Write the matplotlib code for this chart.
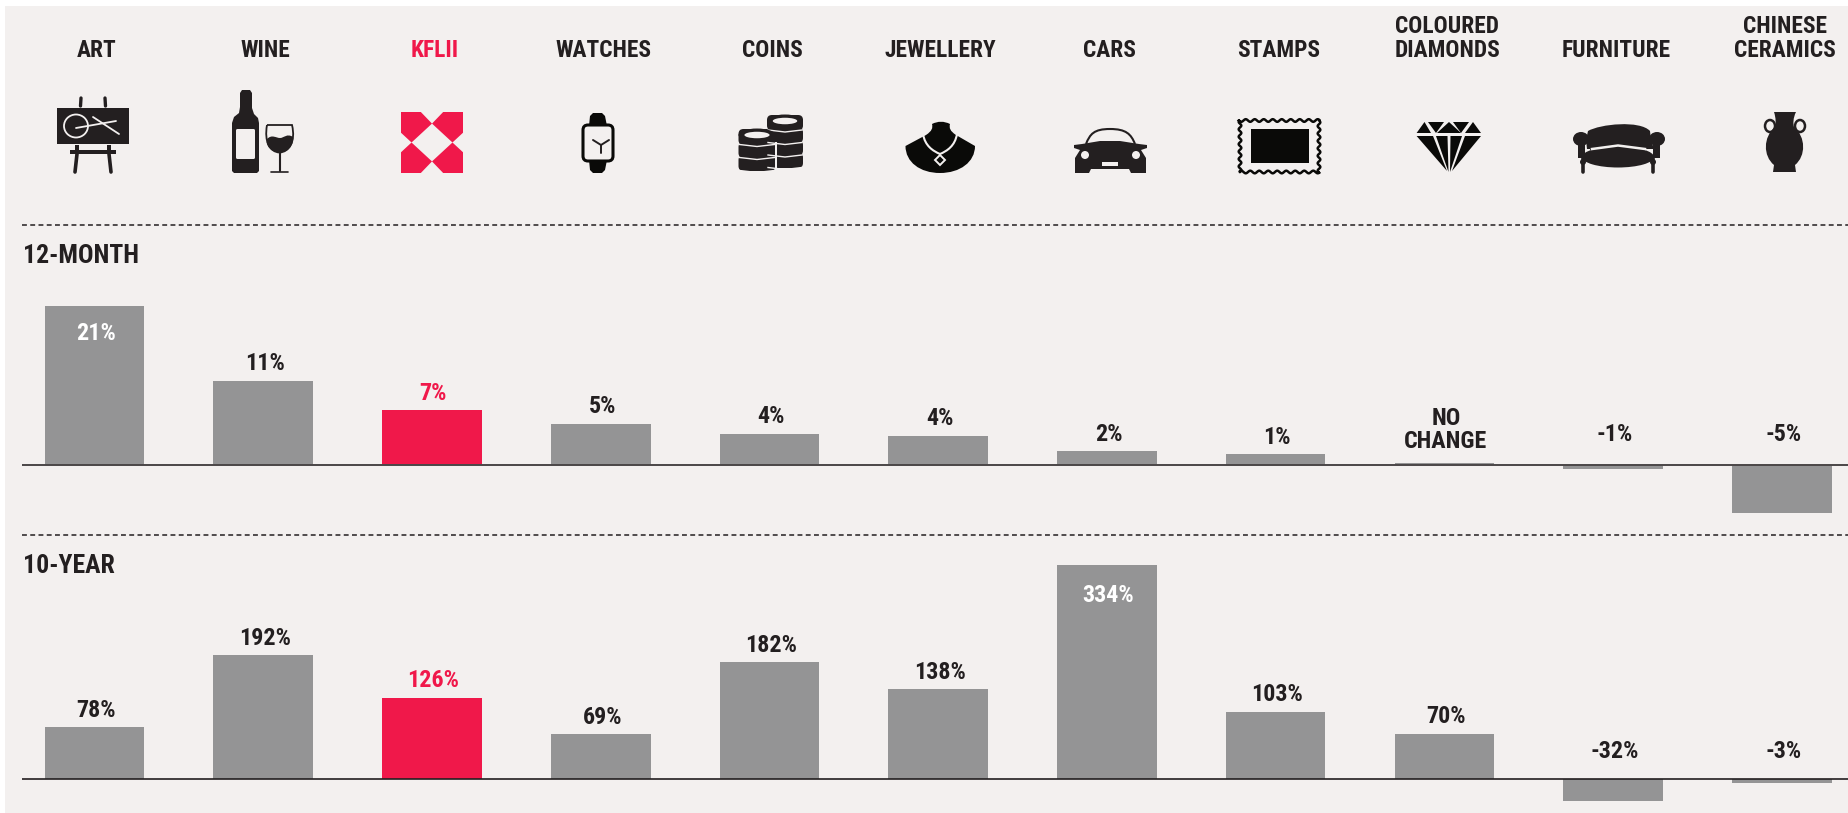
import matplotlib
matplotlib.use("Agg")
import matplotlib.pyplot as plt
from matplotlib import font_manager as fm
from matplotlib.patches import Rectangle, Polygon, Ellipse, FancyBboxPatch, PathPatch
from matplotlib.path import Path
import numpy as np

categories = ["ART", "WINE", "KFLII", "WATCHES", "COINS", "JEWELLERY", "CARS", "STAMPS",
              "COLOURED\nDIAMONDS", "FURNITURE", "CHINESE\nCERAMICS"]
twelve_month_heights = [21.0, 11.1, 7.2, 5.4, 4.1, 3.8, 1.8, 1.37, 0.25, -0.6, -6.4]
twelve_month_labels = ["21%", "11%", "7%", "5%", "4%", "4%", "2%", "1%", "NO\nCHANGE", "-1%", "-5%"]
ten_year_heights = [81, 193, 127, 70, 182, 140, 334, 105, 71, -33, -6]
ten_year_labels = ["78%", "192%", "126%", "69%", "182%", "138%", "334%", "103%", "70%", "-32%", "-3%"]
highlight = "KFLII"

W, H = 1848, 813
BG, GREY, RED, INK = "#f3f0ef", "#949495", "#f0184a", "#231f20"

available_bold = {f.name for f in fm.fontManager.ttflist if int(f.weight) >= 600}
family = next((n for n in ["Roboto Condensed", "Archivo Narrow", "PT Sans Narrow", "Pragati Narrow"]
               if n in available_bold), "Liberation Sans")
plt.rcParams["font.family"] = [family, "Liberation Sans", "DejaVu Sans"]
plt.rcParams["font.weight"] = "bold"

fig = plt.figure(figsize=(W / 100, H / 100), dpi=100, facecolor="white")
ov = fig.add_axes([0, 0, 1, 1], zorder=0)
ov.set_xlim(0, W); ov.set_ylim(H, 0); ov.axis("off")
ov.add_patch(Rectangle((5, 6), W, H, fc=BG, ec="none"))

FS_HEAD, FS_VAL, FS_TITLE = 16.8, 17.3, 18.5
STEP, X0, BW = 168.75, 94.5, 99.5

def panel(top, bottom, base, scale, heights, labels, title, title_y, inside, inside_off, neg_off, line_c, line_w):
    ax = fig.add_axes([0, 1 - bottom / H, 1, (bottom - top) / H], zorder=2)
    ax.patch.set_alpha(0)
    ax.axis("off")
    ax.set_xlim(-X0 / STEP, (W - X0) / STEP)
    ax.set_ylim(-(bottom - base) / scale, (base - top) / scale)
    xs = np.arange(len(categories))
    colors = [RED if c == highlight else GREY for c in categories]
    ax.bar(xs, heights, width=BW / STEP, color=colors, linewidth=0, zorder=2)
    ax.plot([(22 - X0) / STEP, (W - X0) / STEP], [0, 0], color=line_c, lw=line_w, zorder=3,
            solid_capstyle="butt")
    for i, (h, lab, c) in enumerate(zip(heights, labels, categories)):
        tc = RED if c == highlight else INK
        kw = dict(textcoords="offset points", ha="center", va="center", fontsize=FS_VAL)
        if "\n" in lab:
            ax.annotate(lab, (i, 0), xytext=(1, 35 * 0.72), color=tc, linespacing=1.0, **kw)
        elif i in inside:
            ax.annotate(lab, (i, h), xytext=(1, -inside_off * 0.72), color="white", **kw)
        elif h < 0:
            ax.annotate(lab, (i, 0), xytext=(1, neg_off * 0.72), color=tc, **kw)
        else:
            ax.annotate(lab, (i, h), xytext=(1, 17 * 0.72), color=tc, **kw)
    ov.text(23, title_y, title, ha="left", va="center", fontsize=FS_TITLE, color=INK)

panel(225, 535, 464.7, 7.57, twelve_month_heights, twelve_month_labels, "12-MONTH", 256, {0}, 28, 30,
      "#4a4647", 1.4)
panel(535, 813, 779.3, 0.643, ten_year_heights, ten_year_labels, "10-YEAR", 566, {6}, 31, 27.5,
      "#231f20", 1.2)

for y in (225, 535):
    ov.plot([22, W], [y, y], color=INK, lw=1.1, dashes=(3.2, 2.2), zorder=1)

for i, c in enumerate(categories):
    ov.text(97 + STEP * i, 50.5, c.split("\n")[-1], ha="center", va="center", fontsize=FS_HEAD,
            color=RED if c == highlight else INK, zorder=3)
    if "\n" in c:
        ov.text(97 + STEP * i, 26.5, c.split("\n")[0], ha="center", va="center", fontsize=FS_HEAD,
                color=INK, zorder=3)

# ---------- icons, in pixel coordinates ----------
K = "#231f20"; K2 = "#0a0a08"
def poly(pts, fc=K, z=3): ov.add_patch(Polygon(pts, closed=True, fc=fc, ec="none", zorder=z))
def rect(x0, y0, x1, y1, fc=K, z=3): ov.add_patch(Rectangle((x0, y0), x1 - x0, y1 - y0, fc=fc, ec="none", zorder=z))
def rrect(x0, y0, x1, y1, r, fc=K, ec="none", lw=0, z=3):
    ov.add_patch(FancyBboxPatch((x0 + r, y0 + r), x1 - x0 - 2 * r, y1 - y0 - 2 * r,
                                boxstyle=f"round,pad={r},rounding_size={r}", fc=fc, ec=ec, lw=lw, zorder=z))
def ell(cx, cy, w, h, fc=K, ec="none", lw=0, z=3): ov.add_patch(Ellipse((cx, cy), w, h, fc=fc, ec=ec, lw=lw, zorder=z))
def line(pts, c=K, lw=2, z=4):
    a = np.array(pts); ov.plot(a[:, 0], a[:, 1], color=c, lw=lw, zorder=z, solid_capstyle="round")
def bez(verts, codes, fc=K, ec="none", lw=0, z=3):
    ov.add_patch(PathPatch(Path(verts, codes), fc=fc, ec=ec, lw=lw, zorder=z))
M, L, C = Path.MOVETO, Path.LINETO, Path.CURVE4

# art
rect(57, 108, 129, 144)
line([(81, 98), (80.5, 106)], lw=2.4); line([(105, 98), (105.5, 106)], lw=2.4)
rect(70, 150, 116, 154); rect(75, 145, 79, 150); rect(107, 145, 111, 150)
line([(77, 154), (75, 172)], lw=2.6); line([(109, 154), (111, 172)], lw=2.6)
ell(76, 126, 24, 23, fc="none", ec=BG, lw=1.3, z=4)
line([(76, 128), (116, 121)], c=BG, lw=1.3); line([(93, 117), (119, 134)], c=BG, lw=1.3)
# wine
poly([(240, 93), (242, 90), (250, 90), (252, 93), (252, 108), (254, 114), (258, 118), (259, 123),
      (259, 171), (257, 173), (234, 173), (232, 171), (232, 123), (234, 117), (239, 113), (240, 107)])
rrect(236, 129, 255, 159, 1.5, fc=BG, z=4)
bez([(267, 125), (264, 142), (270, 152), (279.5, 152.5), (289, 152), (296, 142), (292, 125), (267, 125)],
    [M, C, C, C, C, C, C, L], fc="none", ec=K, lw=1.3)
bez([(267, 139), (272, 134), (276, 138), (280, 138), (284, 138), (287, 133), (293, 137),
     (294, 145), (288, 152.5), (279.5, 152.5), (271, 152.5), (265, 145), (267, 139)],
    [M, C, C, C, C, C, C, C, C, C, C, C, C])
line([(279.5, 152), (279.5, 171)], lw=1.5); line([(271, 172), (288, 172)], lw=1.2)
# kflii
kx, ky, kw, kh = 401, 112, 62, 61
tl = np.array([(0, 0), (.32, 0), (.5, .19), (.17, .5), (0, .34)])
for sx, sy in ((0, 0), (1, 0), (0, 1), (1, 1)):
    p = tl.copy()
    if sx: p[:, 0] = 1 - p[:, 0]
    if sy: p[:, 1] = 1 - p[:, 1]
    poly(np.c_[kx + p[:, 0] * kw, ky + p[:, 1] * kh], fc=RED)
# watch
poly([(589, 126), (590, 116), (593, 113), (602, 113), (605, 116), (607, 126)], fc=K2)
poly([(589, 160), (590, 170), (593, 173), (602, 173), (605, 170), (607, 160)], fc=K2)
rrect(583, 125, 613, 161, 5, fc=BG, ec=K2, lw=2.2, z=4)
line([(601, 145), (601, 153)], lw=1.4, z=5); line([(601, 145), (593, 140)], lw=1.4, z=5); line([(601, 145), (609, 140)], lw=1.4, z=5)
# coins
def coin_stack(cx, w, top, n, dh):
    for k in range(n - 1, -1, -1):
        y = top + k * dh
        rrect(cx - w / 2, y, cx + w / 2, y + dh + 3, 5, fc=K, z=3 + (n - k) * .01)
        ov.plot([cx - w / 2 + 1, cx, cx + w / 2 - 1], [y + dh + 2.5, y + dh + 4.5, y + dh + 2.5], color=BG, lw=1, zorder=3.5)
    ell(cx, top + 6, w, 13, fc=K, z=3.6)
    ell(cx, top + 6, w * .68, 6.5, fc=BG, z=3.7)
coin_stack(785, 36, 115, 4, 12.5)
coin_stack(757, 37, 129, 3, 13)
rect(774.5, 142, 776.5, 172, fc=BG, z=3.8)
# jewellery
bez([(905.5, 146), (926, 135), (932, 131), (933, 128), (932, 124), (938, 121), (944, 121), (950, 124),
     (949, 128), (950, 131), (956, 135), (975, 146), (975, 162), (960, 173), (940, 173), (920, 173), (905.5, 162), (905.5, 146)],
    [M, L, C, C, C, C, C, C, C, C, C, L, C, C, C, C, C, C], fc=K2)
bez([(923, 134), (925, 146), (933, 151), (940, 154), (947, 151), (955, 146), (957, 134)],
    [M, C, C, C, C, C, C], fc="none", ec=BG, lw=1.5, z=4)
ov.add_patch(Polygon([(940, 155), (945, 160), (940, 165), (935, 160)], fc=K2, ec=BG, lw=1.4, zorder=4.5))
# car
bez([(1086, 144), (1090, 134), (1094, 129), (1110, 129), (1126, 129), (1131, 134), (1135, 144)],
    [M, C, C, C, C, C, C], fc="none", ec=K, lw=1.5)
poly([(1074, 145), (1082, 144), (1100, 141), (1120, 141), (1139, 144), (1147, 145), (1147, 148), (1141, 150),
      (1146, 158), (1146, 173), (1131, 173), (1129, 169), (1091, 169), (1089, 173), (1075, 173), (1075, 158),
      (1080, 150), (1074, 148)])
ell(1085, 155, 8, 8, fc=BG, z=4); ell(1136, 155, 8, 8, fc=BG, z=4)
rect(1102, 162, 1118, 166, fc=BG, z=4)
# stamp
t = np.linspace(0, 1, 121)
top = np.c_[1239 + 81 * t, 120.5 + 1.3 * np.sin(2 * np.pi * 9 * t)]
right = np.c_[1319 + 1.3 * np.sin(2 * np.pi * 7 * t), 120.5 + 52 * t]
bot = np.c_[1320 - 81 * t, 172 + 1.3 * np.sin(2 * np.pi * 9 * t)]
left = np.c_[1240 + 1.3 * np.sin(2 * np.pi * 7 * t), 172 - 52 * t]
ov.add_patch(Polygon(np.vstack([top, right, bot, left]), closed=True, fc=BG, ec=K2, lw=1.8, zorder=3))
rect(1250.5, 129, 1309, 163, fc=K2, z=4)
# diamond
poly([(1416.6, 133), (1424.5, 122), (1431, 133)], fc=K2)
poly([(1428, 122), (1444, 122), (1436, 133)], fc=K2)
poly([(1437, 133), (1449, 122), (1461, 133)], fc=K2)
poly([(1453, 122), (1469, 122), (1461, 133)], fc=K2)
poly([(1465, 133), (1473, 122), (1481, 133)], fc=K2)
poly([(1416.6, 136), (1433, 136), (1447, 171)], fc=K2)
poly([(1436, 136), (1447.5, 136), (1448.5, 172)], fc=K2)
poly([(1450.5, 136), (1462, 136), (1450, 172)], fc=K2)
poly([(1465, 136), (1481, 136), (1452, 171)], fc=K2)
# sofa
bez([(1588, 131), (1600, 124), (1640, 120), (1650, 131), (1651, 140), (1652, 146), (1655, 149), (1587, 149), (1586, 140), (1588, 131)],
    [M, C, C, C, C, C, C, L, L, L])
ell(1618, 157, 72, 21)
rect(1590, 148, 1646, 150)
ov.plot([1592, 1618, 1645], [149, 145.5, 149], color=BG, lw=1.8, zorder=4)
ell(1581, 139, 16, 14); ell(1657, 139, 16, 14)
rect(1578, 140, 1585, 158); rect(1653, 140, 1660, 158)
line([(1583, 158), (1583, 172)], lw=2.6); line([(1653, 158), (1653, 172)], lw=2.6)
ell(1583, 162, 6, 6); ell(1653, 162, 6, 6)
# vase
bez([(1774, 112), (1796, 112), (1793, 118), (1793, 124), (1794, 127), (1806, 137), (1806, 156), (1795, 165),
     (1796, 172), (1773, 172), (1774, 165), (1763, 156), (1763, 137), (1775, 127), (1776, 124), (1776, 118), (1774, 112)],
    [M, L, C, C, C, C, C, C, L, L, L, C, C, C, C, C, C])
ell(1770, 126, 10, 12, fc="none", ec=K, lw=1.8)
ell(1800, 126, 10, 12, fc="none", ec=K, lw=1.8)

fig.savefig("out.png", dpi=100, facecolor="white")
